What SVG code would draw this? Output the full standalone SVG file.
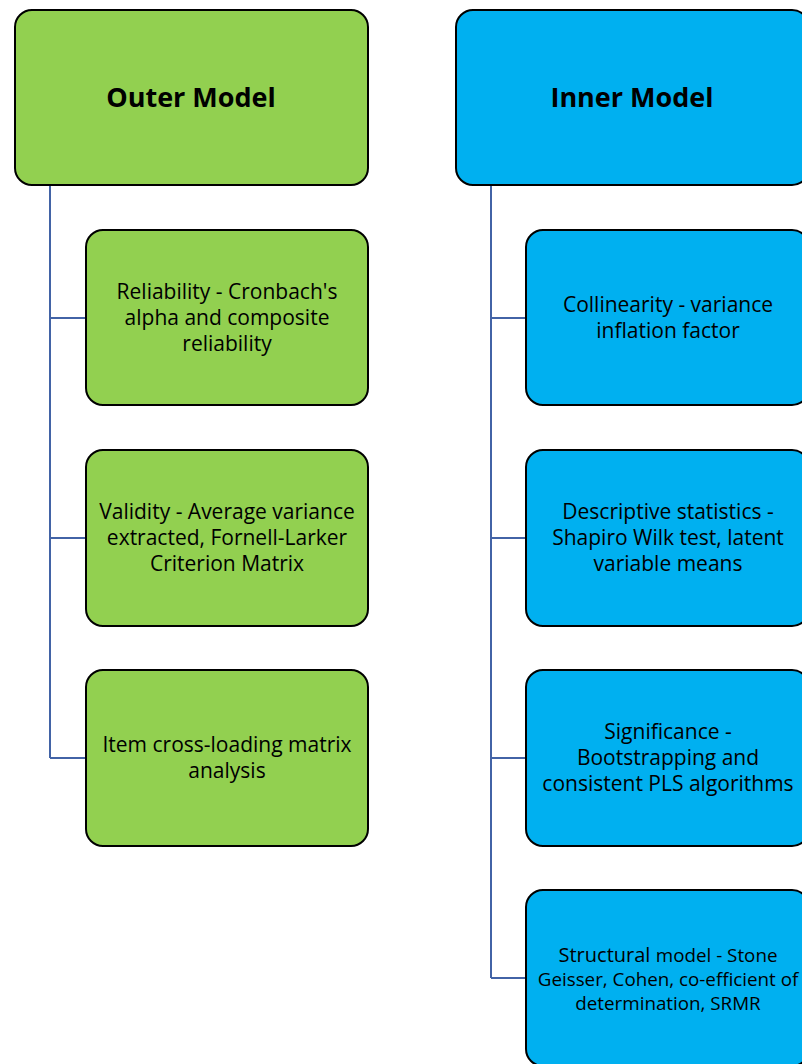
<svg xmlns="http://www.w3.org/2000/svg" width="802" height="1064" viewBox="0 0 802 1064">
  <style>
    .box { stroke: #000; stroke-width: 2; }
    .outer { fill: #92D050; }
    .inner { fill: #00B0F0; }
    .title { font-family: "Open Sans", "Liberation Sans", sans-serif; font-weight: bold; font-size: 27px; text-anchor: middle; fill: #000; }
    .lbl { font-family: "Open Sans", "Liberation Sans", sans-serif; font-size: 21px; text-anchor: middle; fill: #000; }
    .sm { font-size: 18.8px; }
    .link { fill: none; stroke: #4263A6; stroke-width: 2; }
  </style>
  <rect width="802" height="1064" fill="#fff"/>

  <!-- connectors -->
  <g id="connectors">
    <path class="link" d="M50 185 V758 M50 318 H86 M50 538 H86 M50 758 H86"/>
    <path class="link" d="M491 185 V978 M491 318 H526 M491 538 H526 M491 758 H526 M491 978 H526"/>
  </g>

  <!-- outer model column -->
  <g id="outer-model">
    <rect class="box outer" x="15" y="10" width="353" height="175" rx="17"/>
    <text class="title" x="191" y="107">Outer Model</text>
  </g>
  <g id="reliability">
    <rect class="box outer" x="86" y="230" width="282" height="175" rx="17"/>
    <text class="lbl" x="227" y="299">Reliability - Cronbach's</text>
    <text class="lbl" x="227" y="325">alpha and composite</text>
    <text class="lbl" x="227" y="351">reliability</text>
  </g>
  <g id="validity">
    <rect class="box outer" x="86" y="450" width="282" height="176" rx="17"/>
    <text class="lbl" x="227" y="519">Validity - Average variance</text>
    <text class="lbl" x="227" y="545">extracted, Fornell-Larker</text>
    <text class="lbl" x="227" y="571">Criterion Matrix</text>
  </g>
  <g id="cross-loading">
    <rect class="box outer" x="86" y="670" width="282" height="176" rx="17"/>
    <text class="lbl" x="227" y="752">Item cross-loading matrix</text>
    <text class="lbl" x="227" y="778">analysis</text>
  </g>

  <!-- inner model column -->
  <g id="inner-model">
    <rect class="box inner" x="456" y="10" width="353" height="175" rx="17"/>
    <text class="title" x="632" y="107">Inner Model</text>
  </g>
  <g id="collinearity">
    <rect class="box inner" x="526" y="230" width="283" height="175" rx="17"/>
    <text class="lbl" x="668" y="312">Collinearity - variance</text>
    <text class="lbl" x="668" y="338">inflation factor</text>
  </g>
  <g id="descriptive">
    <rect class="box inner" x="526" y="450" width="283" height="176" rx="17"/>
    <text class="lbl" x="668" y="519">Descriptive statistics -</text>
    <text class="lbl" x="668" y="545">Shapiro Wilk test, latent</text>
    <text class="lbl" x="668" y="571">variable means</text>
  </g>
  <g id="significance">
    <rect class="box inner" x="526" y="670" width="283" height="176" rx="17"/>
    <text class="lbl" x="668" y="739">Significance -</text>
    <text class="lbl" x="668" y="765">Bootstrapping and</text>
    <text class="lbl" x="668" y="791">consistent PLS algorithms</text>
  </g>
  <g id="structural">
    <rect class="box inner" x="526" y="890" width="283" height="176" rx="17"/>
    <text class="lbl" x="668" y="962"><tspan font-size="20px">Structural</tspan> <tspan class="sm">model - Stone</tspan></text>
    <text class="lbl sm" x="668" y="986">Geisser, Cohen, co-efficient of</text>
    <text class="lbl sm" x="668" y="1010">determination, SRMR</text>
  </g>
</svg>
